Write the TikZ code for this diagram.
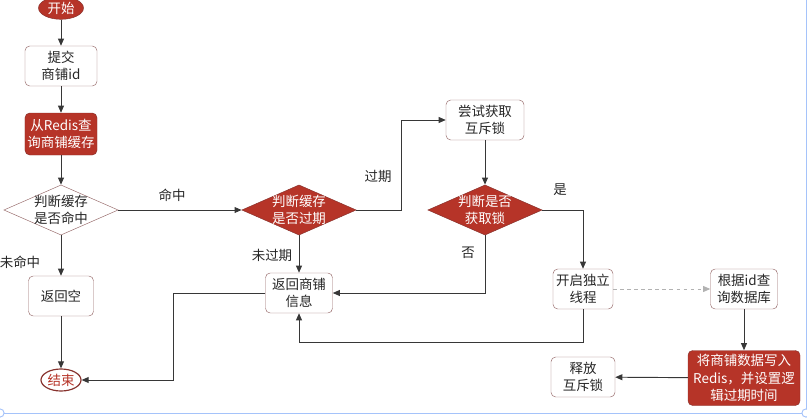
\documentclass[tikz,border=0pt]{standalone}
\usepackage{fontspec}
\setmainfont{Noto Sans CJK SC}
\usepackage{xcolor}
\usetikzlibrary{arrows.meta, shapes.geometric}
\definecolor{flowred}{RGB}{182,52,40}
\definecolor{flowedge}{RGB}{135,50,45}
\definecolor{boxedge}{RGB}{150,105,105}
\definecolor{linegray}{RGB}{55,55,55}
\definecolor{selblue}{RGB}{165,195,250}

\begin{document}
\begin{tikzpicture}[x=0.03cm, y=-0.03cm, font=\fontsize{11.5}{15}\selectfont,
  box/.style={draw=boxedge, fill=white, rounded corners=4pt, align=center, inner sep=0pt, minimum height=1.2cm, text=black!85},
  redbox/.style={box, draw=flowedge, fill=flowred, text=white},
  decide/.style={diamond, draw=boxedge, fill=white, align=center, aspect=2.28, inner xsep=0pt, inner ysep=-1.5pt, text=black!85},
  reddecide/.style={decide, draw=flowedge, fill=flowred, text=white},
  arr/.style={draw=linegray, line width=0.8pt, -{Triangle[length=6pt,width=5pt]}},
  lbl/.style={text=black!85}]
  \useasboundingbox (0,0) rectangle (807,420);
  % left column
  \node[ellipse, draw=flowedge, fill=flowred, text=white, minimum width=1.35cm, minimum height=0.68cm, inner sep=0pt] (start) at (61,8) {开始};
  \node[box, minimum width=2.16cm] (submit) at (61,66) {提交\\商铺id};
  \node[redbox, minimum width=2.16cm, minimum height=1.26cm] (query) at (61,134) {从Redis查\\询商铺缓存};
  \node[decide] (hit) at (61,210) {判断缓存\\是否命中};
  \node[box, minimum width=1.95cm] (empty) at (61,296) {返回空};
  \node[ellipse, draw=flowedge, line width=1pt, fill=white, text=flowred, minimum width=1.2cm, minimum height=0.66cm, inner sep=0pt] (end) at (61,380) {结束};
  % middle
  \node[reddecide] (expire) at (299,210) {判断缓存\\是否过期};
  \node[box, minimum width=2.01cm] (info) at (299,293) {返回商铺\\信息};
  \node[box, minimum width=2.34cm] (trylock) at (485,120) {尝试获取\\互斥锁};
  \node[reddecide] (gotlock) at (485,210) {判断是否\\获取锁};
  % right
  \node[box, minimum width=1.8cm] (thread) at (583,289) {开启独立\\线程};
  \node[box, minimum width=2.01cm] (db) at (744,289) {根据id查\\询数据库};
  \node[redbox, minimum width=3.36cm, minimum height=1.65cm] (write) at (744,378) {将商铺数据写入\\Redis，并设置逻\\辑过期时间};
  \node[box, minimum width=1.92cm] (unlock) at (583,377) {释放\\互斥锁};
  % labels
  \node[lbl] (lhit) at (172,195) {命中};
  \node[lbl] (lmiss) at (20,262) {未命中};
  \node[lbl] (lexp) at (378,176) {过期};
  \node[lbl] (lvalid) at (272,255) {未过期};
  \node[lbl] (lyes) at (560,190) {是};
  \node[lbl] (lno) at (468,253) {否};
  % connectors
  \draw[arr] (start) -- (submit);
  \draw[arr] (submit) -- (query);
  \draw[arr] (query) -- (hit);
  \draw[arr] (hit) -- (empty);
  \draw[arr] (empty) -- (end);
  \draw[arr] (hit) -- (expire);
  \draw[arr] (expire.east) -- ++(45,0) |- (trylock.west);
  \draw[arr] (expire) -- (info);
  \draw[arr] (trylock) -- (gotlock);
  \draw[arr] (gotlock.east) -| (thread.north);
  \draw[arr] (gotlock.south) |- (info.east);
  \draw[arr] (thread.south) -- ++(0,33) -| (info.south);
  \draw[arr] (info.west) -- ++(-92,0) |- (end.east);
  \draw[arr, draw=gray!60, dashed] (thread) -- (db);
  \draw[arr] (db) -- (write);
  \draw[arr] (write) -- (unlock);
  % selection frame
  \draw[selblue, line width=0.8pt] (806,0) -- (806,413) -- (0,413);
  \draw[selblue, line width=0.8pt, fill=white] (0,413) circle (3.5pt);
  \draw[selblue, line width=0.8pt, fill=white] (806,413) circle (3.5pt);
\end{tikzpicture}
\end{document}
